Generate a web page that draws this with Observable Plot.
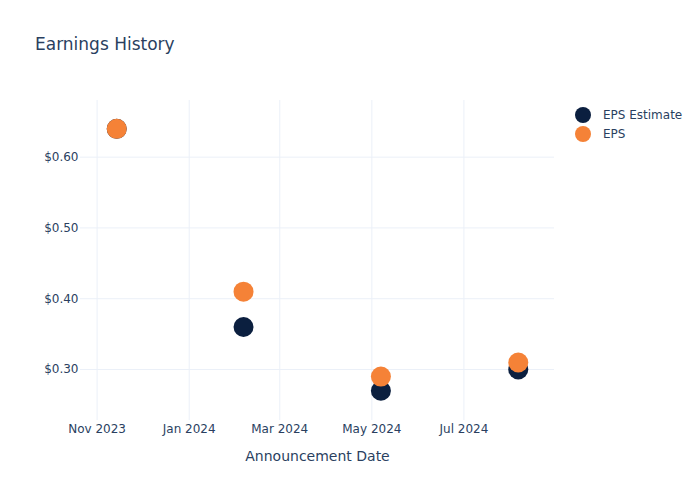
<!DOCTYPE html>
<html>
<head>
<meta charset="utf-8">
<script src="https://cdn.jsdelivr.net/npm/d3@7"></script>
<script src="https://cdn.jsdelivr.net/npm/@observablehq/plot@0.6"></script>
<style>
  html, body { margin: 0; padding: 0; background: #fff; }
  #wrap { position: relative; width: 700px; height: 500px; font-family: "DejaVu Sans", sans-serif; color: #2a3f5f; }
  #title { position: absolute; left: 35px; top: 34px; font-size: 17px; }
  #legend { position: absolute; left: 575px; top: 105px; font-size: 12px; }
  .item { display: flex; align-items: center; height: 19px; }
  .sw { width: 16px; height: 16px; border-radius: 50%; margin-right: 12px; }
</style>
</head>
<body>
<div id="wrap">
  <div id="chart"></div>
  <div id="title"></div>
  <div id="legend"></div>
</div>
<script>
const titleText = "Earnings History";
const xLabel = "Announcement Date";
const dates = ["2023-11-14", "2024-02-06", "2024-05-07", "2024-08-06"];
const epsEstimate = [0.64, 0.36, 0.27, 0.30];
const eps = [0.64, 0.41, 0.29, 0.31];
const seriesNames = ["EPS Estimate", "EPS"];
const seriesColors = ["#0b1f3f", "#f58237"];
const xTicks = ["2023-11-01", "2024-01-01", "2024-03-01", "2024-05-01", "2024-07-01"];
const yTicks = [0.3, 0.4, 0.5, 0.6];
const xDomain = ["2023-10-21", "2024-08-30"];
const yDomain = [0.228, 0.68];

const parse = d3.utcParse("%Y-%m-%d");
const rows = [];
dates.forEach((d, i) => rows.push({date: parse(d), value: epsEstimate[i], series: seriesNames[0]}));
dates.forEach((d, i) => rows.push({date: parse(d), value: eps[i], series: seriesNames[1]}));

const ink = "#2a3f5f";
const grid = "#ebf0f8";

const chart = Plot.plot({
  width: 700,
  height: 500,
  marginLeft: 80,
  marginRight: 146,
  marginTop: 100,
  marginBottom: 80,
  style: {fontFamily: '"DejaVu Sans", sans-serif', fontSize: "12px", color: ink, background: "#fff"},
  x: {type: "utc", domain: xDomain.map(parse)},
  y: {domain: yDomain},
  color: {domain: seriesNames, range: seriesColors},
  marks: [
    Plot.gridX(xTicks.map(parse), {stroke: grid, strokeOpacity: 1, strokeWidth: 1}),
    Plot.gridY(yTicks, {stroke: grid, strokeOpacity: 1, strokeWidth: 1}),
    Plot.axisY(yTicks, {tickSize: 0, tickPadding: 2, tickFormat: d3.format("$.2f"), label: null, fill: ink, fontSize: 12}),
    Plot.axisX(xTicks.map(parse), {tickSize: 0, tickPadding: 4, tickFormat: d3.utcFormat("%b %Y"), label: null, fill: ink, fontSize: 12}),
    Plot.axisX([], {tickSize: 0, label: xLabel, labelAnchor: "center", labelArrow: "none", labelOffset: 40, fill: ink, fontSize: 14}),
    Plot.dot(rows, {x: "date", y: "value", fill: "series", r: 10, stroke: "none"})
  ]
});
document.getElementById("chart").appendChild(chart);
document.getElementById("title").textContent = titleText;
const legend = document.getElementById("legend");
seriesNames.forEach((n, i) => {
  const it = document.createElement("div");
  it.className = "item";
  it.innerHTML = `<span class="sw" style="background:${seriesColors[i]}"></span><span>${n}</span>`;
  legend.appendChild(it);
});
</script>
</body>
</html>
